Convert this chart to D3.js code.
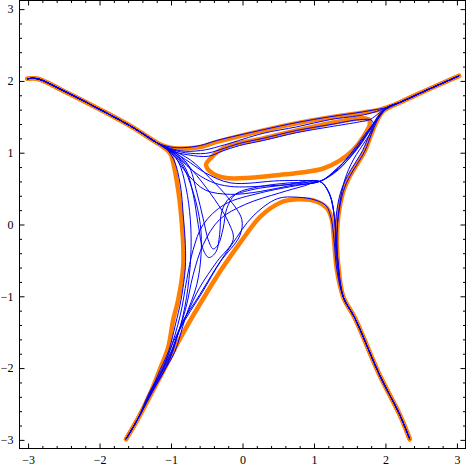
<!DOCTYPE html>
<html><head><meta charset="utf-8">
<script src="https://cdn.jsdelivr.net/npm/d3@7"></script>
<style>html,body{margin:0;padding:0;background:#fff}</style>
</head><body>
<svg id="chart" width="468" height="469"></svg>
<script>
// ---------- data ----------
const majorTicks = [-3, -2, -1, 0, 1, 2, 3];
const tickLabels = ["\u22123", "\u22122", "\u22121", "0", "1", "2", "3"];
const minorTicks = d3.range(-30, 31, 2).map(v => v / 10).filter(v => !majorTicks.includes(v));

// arms (shared by many curves)
const ulArm = [[-3.01,2.03],[-2.87,2.03],[-2.46,1.84],[-1.99,1.60],[-1.53,1.35],[-1.20,1.14]];
const urArm = [[2.02,1.63],[2.20,1.70],[2.62,1.89],[3.03,2.07]];
const urArmR = [[3.03,2.07],[2.62,1.89],[2.20,1.70]];
const lrArm = [[1.41,-1.01],[1.57,-1.30],[1.92,-2.10],[2.20,-2.65],[2.34,-2.99]];
const llArm = [[-1.46,-2.70],[-1.63,-2.99]];

// orange curves
const oLeftMid = [[-1.11,1.08],[-1.01,0.99],[-0.97,0.86],[-0.90,0.48],[-0.86,0.14],[-0.83,-0.28],[-0.83,-0.59],[-0.90,-1.05],[-0.97,-1.33],[-1.04,-1.71],[-1.15,-2.00],[-1.29,-2.35]];
const oTopMid = [[-1.01,1.07],[-0.83,1.06],[-0.59,1.08],[-0.36,1.15],[0.29,1.31],[0.76,1.41],[1.22,1.49],[1.69,1.56],[1.92,1.60]];
const oRightMid = [[1.97,1.58],[1.88,1.44],[1.80,1.25],[1.71,1.02],[1.50,0.67],[1.41,0.46],[1.34,0.11],[1.32,-0.25],[1.34,-0.56]];
const oLambdaMid = [[-1.15,-2.12],[-0.83,-1.51],[-0.50,-0.95],[-0.27,-0.59],[-0.03,-0.25],[0.25,0.11],[0.52,0.30],[0.76,0.35],[1.04,0.32],[1.18,0.23],[1.25,0.07],[1.28,-0.21],[1.32,-0.63]];
const oLoop = [[-0.51,0.83],[-0.43,0.72],[-0.25,0.65],[0.11,0.65],[0.52,0.69],[0.80,0.72],[1.13,0.78],[1.36,0.89],[1.55,1.04],[1.69,1.22],[1.78,1.39],[1.77,1.46],[1.69,1.48],[1.22,1.41],[0.76,1.31],[0.29,1.20],[-0.18,1.10],[-0.34,1.02],[-0.44,0.93]];

// blue curves (middle parts)
const bTop1 = [[-1.01,1.08],[-0.83,1.07],[-0.59,1.10],[-0.36,1.17],[0.29,1.32],[0.76,1.42],[1.22,1.50],[1.69,1.57],[1.92,1.61]];
const bTop2 = [[-1.01,1.06],[-0.80,1.02],[-0.52,1.04],[-0.25,1.11],[0.29,1.27],[0.76,1.36],[1.22,1.46],[1.71,1.53],[1.92,1.59]];
const bLoop1 = [[-1.04,1.06],[-0.80,1.00],[-0.52,0.99],[-0.32,1.04],[-0.04,1.13],[0.29,1.20],[0.76,1.31],[1.22,1.39],[1.64,1.46],[1.81,1.45],[1.83,1.35],[1.73,1.18],[1.55,0.90],[1.43,0.62],[1.36,0.28],[1.32,-0.14],[1.34,-0.56]];
const bLoop2 = [[-1.04,1.04],[-0.76,0.97],[-0.48,0.95],[-0.29,1.02],[-0.04,1.10],[0.29,1.17],[0.76,1.28],[1.22,1.36],[1.64,1.43],[1.78,1.46],[1.92,1.56]];
const bC1 = [[-1.01,1.04],[-0.73,0.86],[-0.52,0.72],[-0.17,0.58],[0.52,0.61],[0.99,0.61],[1.08,0.60],[1.29,0.74],[1.50,0.97],[1.71,1.25],[1.90,1.49]];
const bC2 = [[-0.99,1.02],[-0.71,0.76],[-0.45,0.60],[-0.17,0.53],[0.39,0.54],[0.80,0.57],[1.08,0.60],[1.20,0.46],[1.27,0.21],[1.31,-0.21],[1.34,-0.63]];
const bC3 = [[-0.99,0.99],[-0.76,0.69],[-0.52,0.48],[-0.17,0.42],[0.25,0.46],[0.66,0.54],[1.08,0.60],[1.36,0.79],[1.62,1.07],[1.81,1.35],[1.97,1.57]];
const bLL1 = [[-1.28,-2.33],[-0.99,-1.75],[-0.80,-1.19],[-0.69,-0.70],[-0.55,-0.28],[-0.32,0.07],[0.04,0.28],[0.52,0.44],[0.87,0.54],[1.08,0.60],[1.22,0.42],[1.29,0.07],[1.32,-0.42]];
const bLL2 = [[-1.29,-2.34],[-1.04,-1.82],[-0.87,-1.26],[-0.78,-0.77],[-0.69,-0.35],[-0.55,0.00],[-0.25,0.28],[0.25,0.44],[0.80,0.55],[1.08,0.60],[1.34,0.76],[1.57,1.02],[1.78,1.32],[1.95,1.56]];
const bTear1 = [[-0.99,1.02],[-0.80,0.79],[-0.69,0.42],[-0.62,0.00],[-0.55,-0.35],[-0.47,-0.46],[-0.37,-0.38],[-0.32,-0.14],[-0.29,0.18],[-0.18,0.37],[0.11,0.48],[0.59,0.55],[1.08,0.60],[1.22,0.42],[1.29,0.07],[1.32,-0.42]];
const bTear2 = [[-0.97,1.02],[-0.76,0.83],[-0.64,0.45],[-0.55,0.08],[-0.47,-0.24],[-0.41,-0.34],[-0.34,-0.28],[-0.27,-0.05],[-0.22,0.22],[-0.10,0.42],[0.20,0.52],[0.66,0.58],[1.08,0.60],[1.32,0.78],[1.55,1.01],[1.76,1.30],[1.93,1.55]];
const bDiag1 = [[-1.01,1.03],[-0.80,0.86],[-0.59,0.62],[-0.39,0.35],[-0.20,0.04],[-0.13,-0.21],[-0.36,-0.52],[-0.60,-0.88],[-0.77,-1.23],[-0.97,-1.64],[-1.15,-2.10],[-1.27,-2.33]];
const bDiag2 = [[-0.99,1.04],[-0.73,0.90],[-0.46,0.65],[-0.20,0.37],[-0.01,0.07],[-0.04,-0.16],[-0.31,-0.52],[-0.56,-0.94],[-0.88,-1.47],[-1.06,-1.97],[-1.26,-2.33]];
const bLeft1 = [[-1.08,1.07],[-0.96,0.90],[-0.87,0.55],[-0.83,0.14],[-0.80,-0.28],[-0.80,-0.60],[-0.86,-1.05],[-0.94,-1.40],[-1.03,-1.75],[-1.15,-2.02],[-1.30,-2.36]];
const bLeft2 = [[-1.06,1.06],[-0.90,0.88],[-0.79,0.51],[-0.73,0.07],[-0.72,-0.35],[-0.75,-0.77],[-0.83,-1.26],[-0.99,-1.78],[-1.13,-2.05],[-1.29,-2.36]];
const bLeft3 = [[-1.04,1.05],[-0.85,0.84],[-0.69,0.45],[-0.59,0.00],[-0.58,-0.42],[-0.64,-0.84],[-0.80,-1.30],[-0.95,-1.78],[-1.11,-2.06],[-1.28,-2.36]];
const bRight1 = [[1.97,1.58],[1.88,1.44],[1.80,1.25],[1.71,1.02],[1.50,0.67],[1.41,0.46],[1.34,0.11],[1.32,-0.25],[1.34,-0.56]];
const bRight2 = [[1.96,1.57],[1.86,1.43],[1.77,1.24],[1.68,1.03],[1.47,0.68],[1.37,0.44],[1.31,0.11],[1.30,-0.25],[1.33,-0.58]];
const bLambda = [[-1.30,-2.33],[-1.01,-1.86],[-0.86,-1.40],[-0.60,-0.98],[-0.38,-0.62],[-0.15,-0.28],[0.15,0.12],[0.49,0.36],[0.77,0.38],[1.02,0.34],[1.17,0.26],[1.24,0.09],[1.28,-0.21],[1.32,-0.63]];

// ---------- build ----------
const rev = a => a.slice().reverse();
const llStart = rev(llArm);
const orangeCurves = [
  [...ulArm, ...oLeftMid, ...llArm],
  [...ulArm, ...oTopMid, ...urArm],
  [...urArmR, ...oRightMid, ...lrArm],
  [...llStart, ...oLambdaMid, ...lrArm]
];
const blueCurves = [
  [...ulArm, ...bTop1, ...urArm],
  [...ulArm, ...bTop2, ...urArm],
  [...ulArm, ...bLoop1, ...lrArm],
  [...ulArm, ...bLoop2, ...urArm],
  [...ulArm, ...bC1, ...urArm],
  [...ulArm, ...bC2, ...lrArm],
  [...ulArm, ...bC3, ...urArm],
  [...llStart, ...bLL1, ...lrArm],
  [...llStart, ...bLL2, ...urArm],
  [...ulArm, ...bTear1, ...lrArm],
  [...ulArm, ...bTear2, ...urArm],
  [...ulArm, ...bDiag1, ...llArm],
  [...ulArm, ...bDiag2, ...llArm],
  [...ulArm, ...bLeft1, ...llArm],
  [...ulArm, ...bLeft2, ...llArm],
  [...ulArm, ...bLeft3, ...llArm],
  [...urArmR, ...bRight1, ...lrArm],
  [...urArmR, ...bRight2, ...lrArm],
  [...llStart, ...bLambda, ...lrArm]
];

const svg = d3.select("#chart");
const L = 19.5, R = 465.5, T = 0.5, B = 448.5;
const x = d3.scaleLinear().domain([-3.12, 3.12]).range([L, R]);
const y = d3.scaleLinear().domain([-3.12, 3.12]).range([B, T]);

const line = d3.line().x(d => x(d[0])).y(d => y(d[1])).curve(d3.curveCatmullRom.alpha(0.5));
const loopLine = d3.line().x(d => x(d[0])).y(d => y(d[1])).curve(d3.curveCatmullRomClosed.alpha(0.5));

const plot = svg.append("g");
plot.selectAll("path.or").data(orangeCurves).join("path").attr("class","or")
  .attr("d", line).attr("fill","none").attr("stroke","#ff8000")
  .attr("stroke-width",4.5).attr("stroke-linecap","round").attr("stroke-linejoin","round");
plot.append("path").datum(oLoop).attr("d", loopLine).attr("fill","none")
  .attr("stroke","#ff8000").attr("stroke-width",4.5);
plot.selectAll("path.bl").data(blueCurves).join("path").attr("class","bl")
  .attr("d", line).attr("fill","none").attr("stroke","#0000ff")
  .attr("stroke-width",1).attr("stroke-linejoin","round");

// ---------- frame & axes ----------
const font = "Liberation Serif, Times New Roman, serif";
function styleAxis(g) {
  g.select(".domain").remove();
  g.selectAll(".tick line").attr("stroke","#000");
  g.selectAll("text").attr("font-family", font).attr("font-size", 12).attr("fill","#000");
}
const fmt = v => tickLabels[majorTicks.indexOf(v)];
svg.append("g").attr("transform",`translate(0,${B})`)
  .call(d3.axisBottom(x).tickValues(majorTicks).tickSize(-5).tickPadding(7).tickFormat(fmt)).call(styleAxis);
svg.append("g").attr("transform",`translate(0,${B})`)
  .call(d3.axisBottom(x).tickValues(minorTicks).tickSize(-2.5).tickFormat("")).call(styleAxis);
svg.append("g").attr("transform",`translate(${L},0)`)
  .call(d3.axisLeft(y).tickValues(majorTicks).tickSize(-5).tickPadding(6).tickFormat(fmt)).call(styleAxis);
svg.append("g").attr("transform",`translate(${L},0)`)
  .call(d3.axisLeft(y).tickValues(minorTicks).tickSize(-2.5).tickFormat("")).call(styleAxis);
svg.append("g").attr("transform",`translate(0,${T})`)
  .call(d3.axisTop(x).tickValues(majorTicks).tickSize(-5).tickFormat("")).call(styleAxis);
svg.append("g").attr("transform",`translate(0,${T})`)
  .call(d3.axisTop(x).tickValues(minorTicks).tickSize(-2.5).tickFormat("")).call(styleAxis);
svg.append("g").attr("transform",`translate(${R},0)`)
  .call(d3.axisRight(y).tickValues(majorTicks).tickSize(-5).tickFormat("")).call(styleAxis);
svg.append("g").attr("transform",`translate(${R},0)`)
  .call(d3.axisRight(y).tickValues(minorTicks).tickSize(-2.5).tickFormat("")).call(styleAxis);
svg.append("rect").attr("x",L).attr("y",T).attr("width",R-L).attr("height",B-T)
  .attr("fill","none").attr("stroke","#000").attr("stroke-width",1);
</script>
</body></html>
